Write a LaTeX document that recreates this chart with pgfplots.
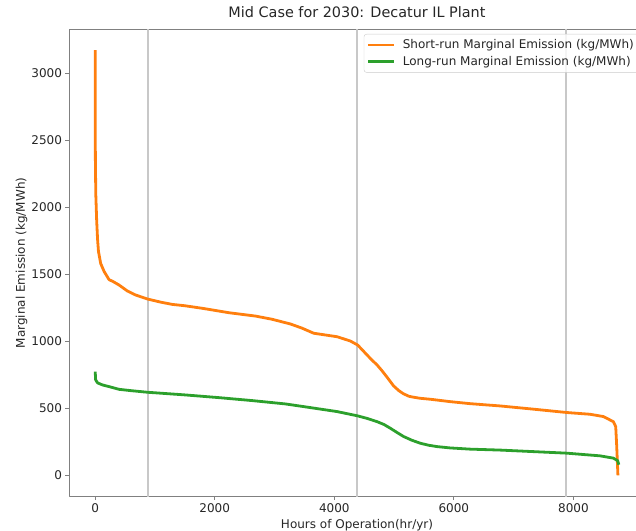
\documentclass[border=0pt]{standalone}
\usepackage{fontspec}
\setmainfont{DejaVu Sans}
\usepackage{pgfplots}
\pgfplotsset{compat=1.18}
\definecolor{mplorange}{HTML}{FF7F0E}
\definecolor{mplgreen}{HTML}{2CA02C}
\definecolor{vline}{HTML}{C8C8C8}
\definecolor{spine}{HTML}{808080}
\newcommand\basefont{\fontsize{12bp}{14.4bp}\selectfont}

\begin{document}
\begin{tikzpicture}
\path[use as bounding box] (-69bp,-34.3bp) rectangle (567bp,496.7bp);
\begin{axis}[
  at={(0,0)}, anchor=south west,
  scale only axis, width=576bp, height=467.7bp,
  xmin=-438, xmax=9198, ymin=-158.5, ymax=3328,
  xtick={0,2000,4000,6000,8000},
  ytick={0,500,1000,1500,2000,2500,3000},
  tick align=outside, tick pos=left,
  major tick length=3.5bp,
  every tick/.style={spine, line width=0.8bp},
  axis line style={spine, line width=0.8bp},
  tick label style={font=\basefont, text=black!85},
  /pgf/number format/assume math mode=true,
  /pgf/number format/1000 sep={},
  title={Mid Case for 2030: Decatur IL Plant},
  title style={font=\fontsize{14.4bp}{17bp}\selectfont, text=black!85,
    at={([yshift=6bp]axis description cs:0.5,1)}, anchor=base, inner sep=0pt},
  xlabel={Hours of Operation(hr/yr)},
  xlabel style={font=\basefont, text=black!85,
    at={([yshift=-32bp]axis description cs:0.5,0)}, anchor=base, inner sep=0pt},
  ylabel={Marginal Emission (kg/MWh)},
  ylabel style={font=\basefont, text=black!85,
    at={([xshift=-44bp]axis description cs:0,0.5)}, anchor=base, inner sep=0pt},
  legend style={at={([xshift=-6bp,yshift=-5bp]axis description cs:1,1)},
    anchor=north east, draw=black!20, fill=white, fill opacity=0.8,
    draw opacity=1, text opacity=1, rounded corners=2.5bp,
    font=\basefont, text=black!85, inner xsep=3bp, inner ysep=3.5bp,
    row sep=2bp, cells={anchor=west},
    /tikz/every odd column/.append style={column sep=5bp}},
  legend image code/.code={\draw[#1] (0bp,0bp) -- (26bp,0bp);},
  line join=round,
]
% reference hours: 10%, 50% and 90% of the year
\addplot[vline, line width=2bp, forget plot] coordinates {(876,-158.5) (876,3328)};
\addplot[vline, line width=2bp, forget plot] coordinates {(4380,-158.5) (4380,3328)};
\addplot[vline, line width=2bp, forget plot] coordinates {(7884,-158.5) (7884,3328)};

\addplot[mplorange, line width=2.8bp] coordinates {
 (0,3170) (3,2370) (10,2100) (25,1900) (40,1760) (55,1670) (92,1580)
 (150,1520) (231,1460) (300,1445) (398,1420) (538,1375) (677,1345)
 (876,1315) (1094,1292) (1290,1275) (1500,1265) (1791,1246) (2236,1213)
 (2682,1188) (2961,1164) (3266,1129) (3460,1098) (3656,1060) (4047,1034)
 (4269,1002) (4391,972) (4470,935) (4548,898) (4630,860) (4715,824)
 (4790,785) (4854,749) (4920,710) (4993,667) (5080,632) (5160,608)
 (5250,590) (5327,583) (5439,575) (5606,568) (5940,550)
 (6274,535) (6775,518) (7332,494) (7890,469) (8279,456) (8501,439)
 (8668,401) (8708,364) (8725,215) (8745,0)
};
\addlegendentry{Short-run Marginal Emission (kg/MWh)}

\addplot[mplgreen, line width=2.8bp] coordinates {
 (0,774) (8,712) (40,690) (120,675) (250,660) (398,642) (600,632)
 (876,620) (1512,600) (2069,580) (2626,558) (3183,533) (3489,513)
 (4047,476) (4391,444) (4550,425) (4715,401) (4830,380) (4937,352)
 (5050,320) (5160,290) (5300,262) (5439,240) (5580,225) (5718,215)
 (5940,205) (6274,196) (6775,189) (7890,166) (8446,146)
 (8668,129) (8740,110) (8760,80)
};
\addlegendentry{Long-run Marginal Emission (kg/MWh)}
\end{axis}
\end{tikzpicture}
\end{document}
